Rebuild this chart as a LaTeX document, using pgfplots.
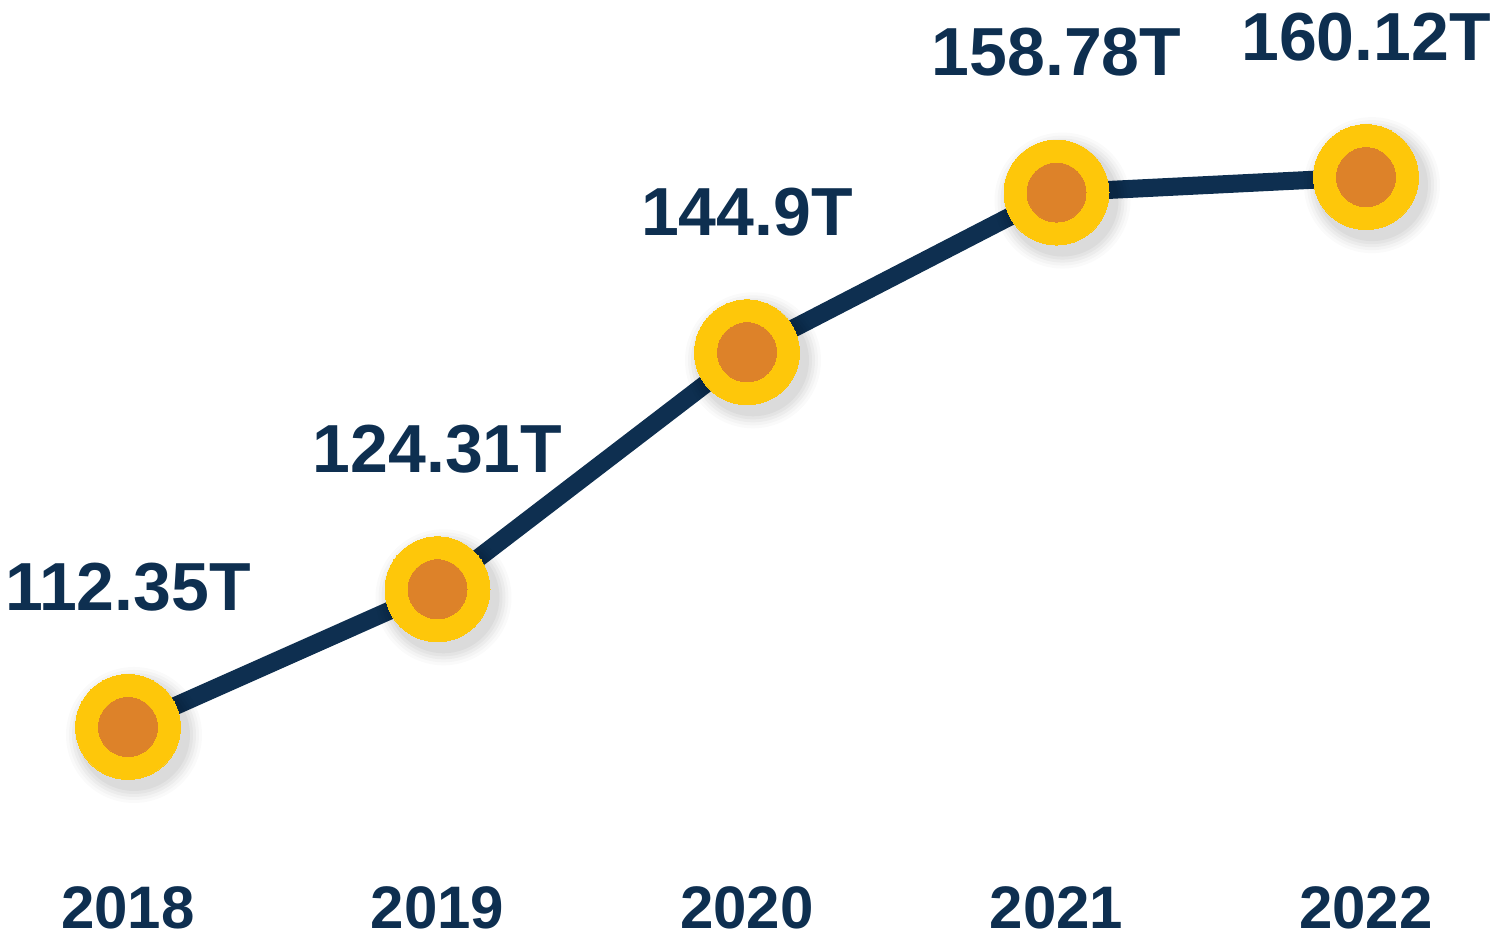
\documentclass[border=0pt]{standalone}
\usepackage{pgfplots}
\pgfplotsset{compat=1.18}
\usepackage{fontspec}
\setmainfont{Liberation Sans}
\definecolor{navy}{HTML}{0E2F50}
\definecolor{gold}{HTML}{FEC70A}
\definecolor{orng}{HTML}{DD8229}
\begin{document}
\begin{tikzpicture}
\useasboundingbox (0,0) rectangle (745pt,472.5pt);
\begin{axis}[
  at={(0,0)}, anchor=south west,
  scale only axis, width=745pt, height=472.5pt,
  xmin=-0.41357, xmax=4.40065,
  ymin=93.41, ymax=175.51,
  hide axis, clip=false,
]
\addplot[navy, line width=9pt, line join=round] coordinates {(0,112.35) (1,124.31) (2,144.9) (3,158.78) (4,160.12)};
% soft shadow
\foreach \r/\o in {34/0.02,32.5/0.025,31/0.03,29.5/0.035,28/0.04} {
\edef\tmp{\noexpand\addplot[only marks, mark=*, mark size=\r pt, mark options={draw opacity=0, fill=black, fill opacity=\o, xshift=3pt, yshift=-4pt}] coordinates {(0,112.35) (1,124.31) (2,144.9) (3,158.78) (4,160.12)};}
\tmp
}
\addplot[only marks, mark=*, mark size=26.25pt, mark options={draw=gold, fill=gold, line width=0pt}] coordinates {(0,112.35) (1,124.31) (2,144.9) (3,158.78) (4,160.12)};
\addplot[only marks, mark=*, mark size=14.75pt, mark options={draw=orng, fill=orng, line width=0pt},
  nodes near coords,
  point meta=explicit symbolic,
  every node near coord/.style={anchor=center, yshift=70pt, text=navy, font=\fontsize{34}{40}\selectfont\bfseries}]
  coordinates {(0,112.35) [112.35T] (1,124.31) [124.31T] (2,144.9) [144.9T] (3,158.78) [158.78T] (4,160.12) [160.12T]};
\foreach \x/\y in {0/2018,1/2019,2/2020,3/2021,4/2022} {
  \edef\tmp{\noexpand\node[text=navy, font=\noexpand\fontsize{30}{36}\noexpand\selectfont\noexpand\bfseries, anchor=center] at (axis cs:\x,96.62) {\y};}
  \tmp
}
\end{axis}
\end{tikzpicture}
\end{document}
